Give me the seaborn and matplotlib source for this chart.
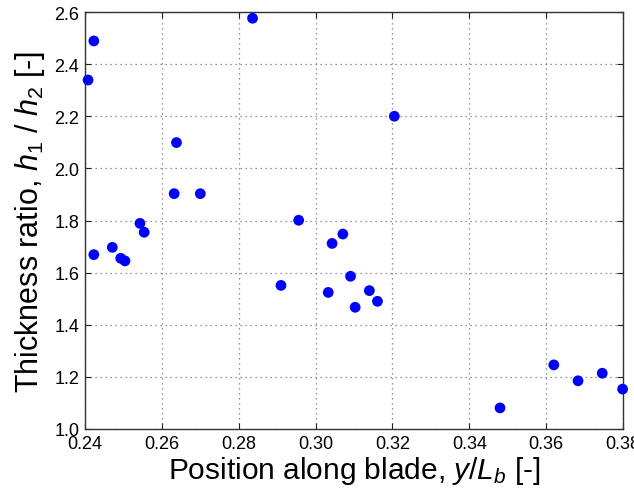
import matplotlib
matplotlib.use("Agg")
import matplotlib.pyplot as plt
import numpy as np
import pandas as pd
import seaborn as sns

# position along blade y/L_b and thickness ratio h1/h2
position = [0.2408, 0.2423, 0.2423, 0.2471, 0.2493, 0.2504, 0.2543, 0.2554,
            0.2632, 0.2638, 0.2700, 0.2836, 0.2910, 0.2956, 0.3033, 0.3043,
            0.3071, 0.3091, 0.3103, 0.3140, 0.3161, 0.3205, 0.3480, 0.3620,
            0.3683, 0.3746, 0.3799]
ratio = [2.339, 2.489, 1.669, 1.697, 1.655, 1.645, 1.789, 1.755,
         1.903, 2.099, 1.903, 2.576, 1.551, 1.801, 1.524, 1.712,
         1.748, 1.586, 1.467, 1.531, 1.490, 2.200, 1.081, 1.246,
         1.185, 1.214, 1.153]
x_ticks = [0.24, 0.26, 0.28, 0.30, 0.32, 0.34, 0.36, 0.38]
y_ticks = [1.0, 1.2, 1.4, 1.6, 1.8, 2.0, 2.2, 2.4, 2.6]

df = pd.DataFrame({"position": position, "ratio": ratio})

sns.set_theme(style="white")
plt.rcParams["font.family"] = ["Liberation Sans", "DejaVu Sans"]
plt.rcParams["mathtext.fontset"] = "custom"
plt.rcParams["mathtext.rm"] = "Liberation Sans"
plt.rcParams["mathtext.it"] = "Liberation Sans:italic"
plt.rcParams["text.color"] = "black"
plt.rcParams["axes.labelcolor"] = "black"

fig = plt.figure(figsize=(6.34, 4.89), dpi=100)
ax = fig.add_axes([85 / 634, 1 - 430 / 489, 538 / 634, 417 / 489])

sns.scatterplot(data=df, x="position", y="ratio", ax=ax, color="#0000ff",
                s=60, edgecolor="none", linewidth=0, clip_on=False, zorder=3)

ax.set_xlim(0.24, 0.38)
ax.set_ylim(1.0, 2.6)
ax.set_xticks(x_ticks)
ax.set_yticks(y_ticks)
ax.set_xticklabels([f"{v:.2f}" for v in x_ticks])
ax.set_yticklabels([f"{v:.1f}" for v in y_ticks])
ax.grid(True, linestyle=(0, (1, 3)), color="#777777", linewidth=0.9)
ax.tick_params(direction="in", length=4, width=0.8, color="#222222",
               labelsize=13, labelcolor="black", top=True, right=True,
               bottom=True, left=True, pad=4)
for sp in ax.spines.values():
    sp.set_color("#333333")
    sp.set_linewidth(1.0)

ax.set_xlabel(r"Position along blade, $y/L_b$ [-]", fontsize=21.5, labelpad=2)
ax.set_ylabel(r"Thickness ratio, $h_1$ / $h_2$ [-]", fontsize=22, labelpad=5)

fig.savefig("out.png", dpi=100)
